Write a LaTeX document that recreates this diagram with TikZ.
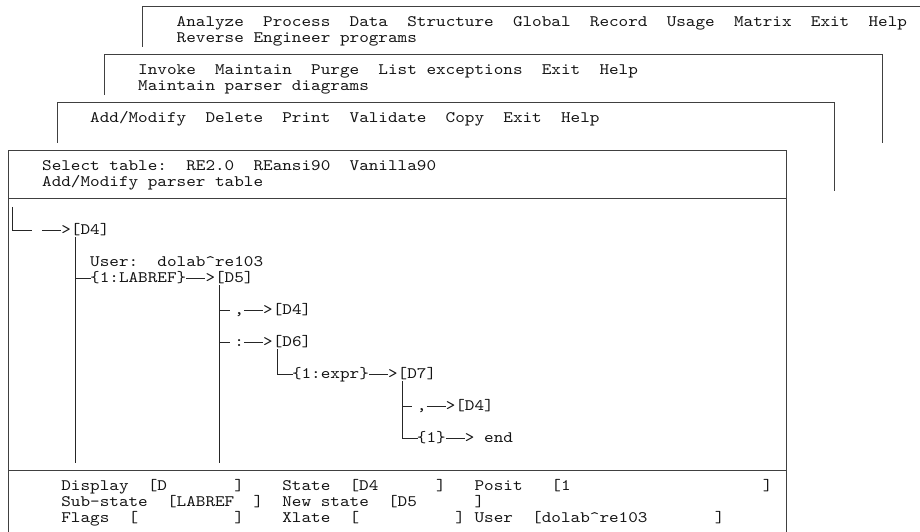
\documentclass[tikz,border=0pt]{standalone}
\usepackage{fontspec}
\newfontfamily\scr{lmmono10-regular.otf}[FakeStretch=1.144]
\begin{document}
\begin{tikzpicture}[x=1pt,y=-1pt,
  txt/.style={anchor=base west,inner sep=0pt,font=\scr\fontsize{16}{16}\selectfont,text=black!92},
  frame/.style={line width=1.1pt,draw=black!75},
  tree/.style={line width=1.1pt,draw=black!85}]
% character grid of the screen: 9.61 wide cells, 16 high rows
\def\cxs#1{(3.5+9.61*(#1))}
\def\cxc#1{(8.3+9.61*(#1))}
\def\ryb#1{(10.7+16*(#1))}
\def\ryc#1{(6.8+16*(#1))}
\useasboundingbox (0,0) rectangle (920,531);

% ---- stacked menu windows ----
\draw[frame] ({\cxc{14}},{\ryc{2}+8}) -- ({\cxc{14}},{\ryc{0}}) -- (920,{\ryc{0}});
\node[txt] (m1) at ({\cxs{18}},{\ryb{1}}) {Analyze~~Process~~Data~~Structure~~Global~~Record~~Usage~~Matrix~~Exit~~Help};
\node[txt] (m1s) at ({\cxs{18}},{\ryb{2}}) {Reverse~Engineer~programs};

\draw[frame] ({\cxc{10}},{\ryc{5}+8}) -- ({\cxc{10}},{\ryc{3}}) -- ({\cxc{91}},{\ryc{3}}) -- ({\cxc{91}},{\ryc{8}+8});
\node[txt] (m2) at ({\cxs{14}},{\ryb{4}}) {Invoke~~Maintain~~Purge~~List~exceptions~~Exit~~Help};
\node[txt] (m2s) at ({\cxs{14}},{\ryb{5}}) {Maintain~parser~diagrams};

\draw[frame] ({\cxc{5}+1},{\ryc{8}+8}) -- ({\cxc{5}+1},{\ryc{6}}) -- ({\cxc{86}},{\ryc{6}}) -- ({\cxc{86}},{\ryc{11}+8});
\node[txt] (m3) at ({\cxs{9}},{\ryb{7}}) {Add/Modify~~Delete~~Print~~Validate~~Copy~~Exit~~Help};

% ---- parser table window ----
\draw[frame] ({\cxc{0}},535) -- ({\cxc{0}},{\ryc{9}}) -- ({\cxc{81}},{\ryc{9}}) -- ({\cxc{81}},535);
\draw[frame] ({\cxc{0}},{\ryc{12}}) -- ({\cxc{81}},{\ryc{12}});
\draw[frame] ({\cxc{0}},{\ryc{29}}) -- ({\cxc{81}},{\ryc{29}});
\node[txt] (sel) at ({\cxs{4}},{\ryb{10}}) {Select~table:~~RE2.0~~REansi90~~Vanilla90};
\node[txt] (sels) at ({\cxs{4}},{\ryb{11}}) {Add/Modify~parser~table};

% ---- parser diagram ----
\coordinate (Lt) at (12.7,{\ryc{13}-8});
\coordinate (Lc) at (12.7,{\ryc{14}});
\coordinate (Le) at (31.7,{\ryc{14}});
\draw[tree] (Lt) -- (Lc) -- (Le);
\node[txt] (d4) at ({\cxs{6}},{\ryb{14}}) {>[D4]};
\coordinate (a14) at ({\cxs{4}},{\ryc{14}});
\draw[tree] (a14) -- (d4.west |- a14);

\coordinate (v7t) at ({\cxc{7}},{\ryc{14}+6});
\coordinate (v7b) at ({\cxc{7}},{\ryc{28}+8});
\draw[tree] (v7t) -- (v7b);
\node[txt] (user) at ({\cxs{9}},{\ryb{16}}) {User:~~dolab\textasciicircum re103};

\coordinate (b17) at ({\cxc{7}},{\ryc{17}});
\node[txt] (lab) at ({\cxs{9}},{\ryb{17}}) {\{1:LABREF\}};
\node[txt] (d5) at ({\cxs{21}},{\ryb{17}}) {>[D5]};
\draw[tree] (b17) -- ([xshift=1pt]lab.west |- b17);
\draw[tree] (lab.east |- b17) -- (d5.west |- b17);

\coordinate (v22t) at ({\cxc{22}},{\ryc{17}+6});
\coordinate (v22b) at ({\cxc{22}},{\ryc{28}+8});
\draw[tree] (v22t) -- (v22b);

\coordinate (b19) at ({\cxc{22}},{\ryc{19}});
\node[txt] (c19) at ({\cxs{24}},{\ryb{19}}) {,};
\node[txt] (t19) at ({\cxs{27}},{\ryb{19}}) {>[D4]};
\draw[tree] (b19) -- ++(10,0);
\draw[tree] (c19.east |- b19) -- (t19.west |- b19);

\coordinate (b21) at ({\cxc{22}},{\ryc{21}});
\node[txt] (c21) at ({\cxs{24}},{\ryb{21}}) {:};
\node[txt] (d6) at ({\cxs{27}},{\ryb{21}}) {>[D6]};
\draw[tree] (b21) -- ++(10,0);
\draw[tree] (c21.east |- b21) -- (d6.west |- b21);

\coordinate (v28t) at ({\cxc{28}},{\ryc{21}+6});
\coordinate (v28c) at ({\cxc{28}},{\ryc{23}});
\node[txt] (expr) at ({\cxs{30}},{\ryb{23}}) {\{1:expr\}};
\node[txt] (d7) at ({\cxs{40}},{\ryb{23}}) {>[D7]};
\draw[tree] (v28t) -- (v28c) -- ([xshift=1pt]expr.west |- v28c);
\draw[tree] (expr.east |- v28c) -- (d7.west |- v28c);

\coordinate (v41t) at ({\cxc{41}},{\ryc{23}+6});
\coordinate (v41c) at ({\cxc{41}},{\ryc{27}});
\coordinate (b25) at ({\cxc{41}},{\ryc{25}});
\node[txt] (c25) at ({\cxs{43}},{\ryb{25}}) {,};
\node[txt] (t25) at ({\cxs{46}},{\ryb{25}}) {>[D4]};
\draw[tree] (b25) -- ++(10,0);
\draw[tree] (c25.east |- b25) -- (t25.west |- b25);

\node[txt] (one) at ({\cxs{43}},{\ryb{27}}) {\{1\}};
\node[txt] (fin) at ({\cxs{48}},{\ryb{27}}) {>~end};
\draw[tree] (v41t) -- (v41c) -- ([xshift=1pt]one.west |- v41c);
\draw[tree] (one.east |- v41c) -- (fin.west |- v41c);

% ---- status fields ----
\node[txt] (f1) at ({\cxs{6}},{\ryb{30}}) {Display~~[D~~~~~~~]~~~~State~~[D4~~~~~~]~~~Posit~~~[1~~~~~~~~~~~~~~~~~~~~]};
\node[txt] (f2) at ({\cxs{6}},{\ryb{31}}) {Sub-state~~[LABREF~~]~~New~state~~[D5~~~~~~]};
\node[txt] (f3) at ({\cxs{6}},{\ryb{32}}) {Flags~~[~~~~~~~~~~]~~~~Xlate~~[~~~~~~~~~~]~User~~[dolab\textasciicircum re103~~~~~~~]};
\end{tikzpicture}
\end{document}
